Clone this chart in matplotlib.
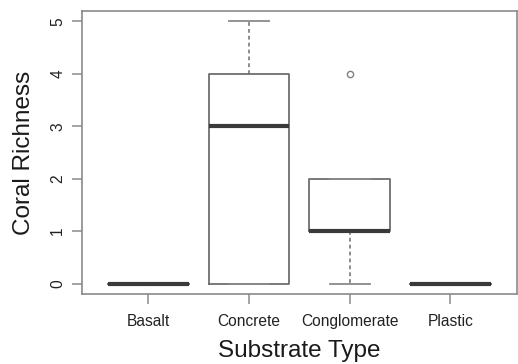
import matplotlib
matplotlib.use("Agg")
import matplotlib.pyplot as plt

categories = ["Basalt", "Concrete", "Conglomerate", "Plastic"]
whisker_low = [0, 0, 0, 0]
q1 = [0, 0, 1, 0]
medians = [0, 3, 1, 0]
q3 = [0, 4, 2, 0]
whisker_high = [0, 5, 2, 0]
outliers = [[], [], [4], []]
yticks = [0, 1, 2, 3, 4, 5]

plt.rcParams['font.family'] = ['Liberation Sans', 'DejaVu Sans']

fig = plt.figure(figsize=(5.18, 3.64), dpi=100)
ax = fig.add_axes([0.158, 0.192, 0.84, 0.778])

stats = []
for i, c in enumerate(categories):
    stats.append(dict(label=c, whislo=whisker_low[i], q1=q1[i], med=medians[i],
                      q3=q3[i], whishi=whisker_high[i], fliers=outliers[i]))

edge = '#6e6e6e'
ax.bxp(stats, positions=range(1, len(categories) + 1), widths=0.8,
       showfliers=True,
       boxprops=dict(color=edge, linewidth=1.3),
       medianprops=dict(color='#3a3a3a', linewidth=3.0, solid_capstyle='butt'),
       whiskerprops=dict(color='#6e6e6e', linewidth=1.1, linestyle=(0, (2.5, 2))),
       capprops=dict(color='#8a8a8a', linewidth=1.3),
       capwidths=0.4,
       flierprops=dict(marker='o', markersize=4.5, markerfacecolor='none',
                       markeredgecolor='#808080', markeredgewidth=1.0))

ax.set_xlim(0.34, 4.66)
ax.set_ylim(-0.2, 5.2)
ax.set_yticks(yticks)
ax.set_yticklabels([str(v) for v in yticks], rotation=90, va='center')
ax.set_xticks(range(1, len(categories) + 1))
ax.set_xticklabels(categories)

for s in ax.spines.values():
    s.set_color('#8a8a8a')
    s.set_linewidth(1.2)

ax.tick_params(axis='both', length=7, width=1.1, color='#8a8a8a',
               labelsize=11.2, labelcolor='#222222')
ax.tick_params(axis='y', pad=5)
ax.tick_params(axis='x', pad=7)

ax.set_xlabel("Substrate Type", fontsize=17.5, color='#1a1a1a', labelpad=8)
ax.set_ylabel("Coral Richness", fontsize=17.5, color='#1a1a1a', labelpad=11)

fig.savefig("out.png", dpi=100)
